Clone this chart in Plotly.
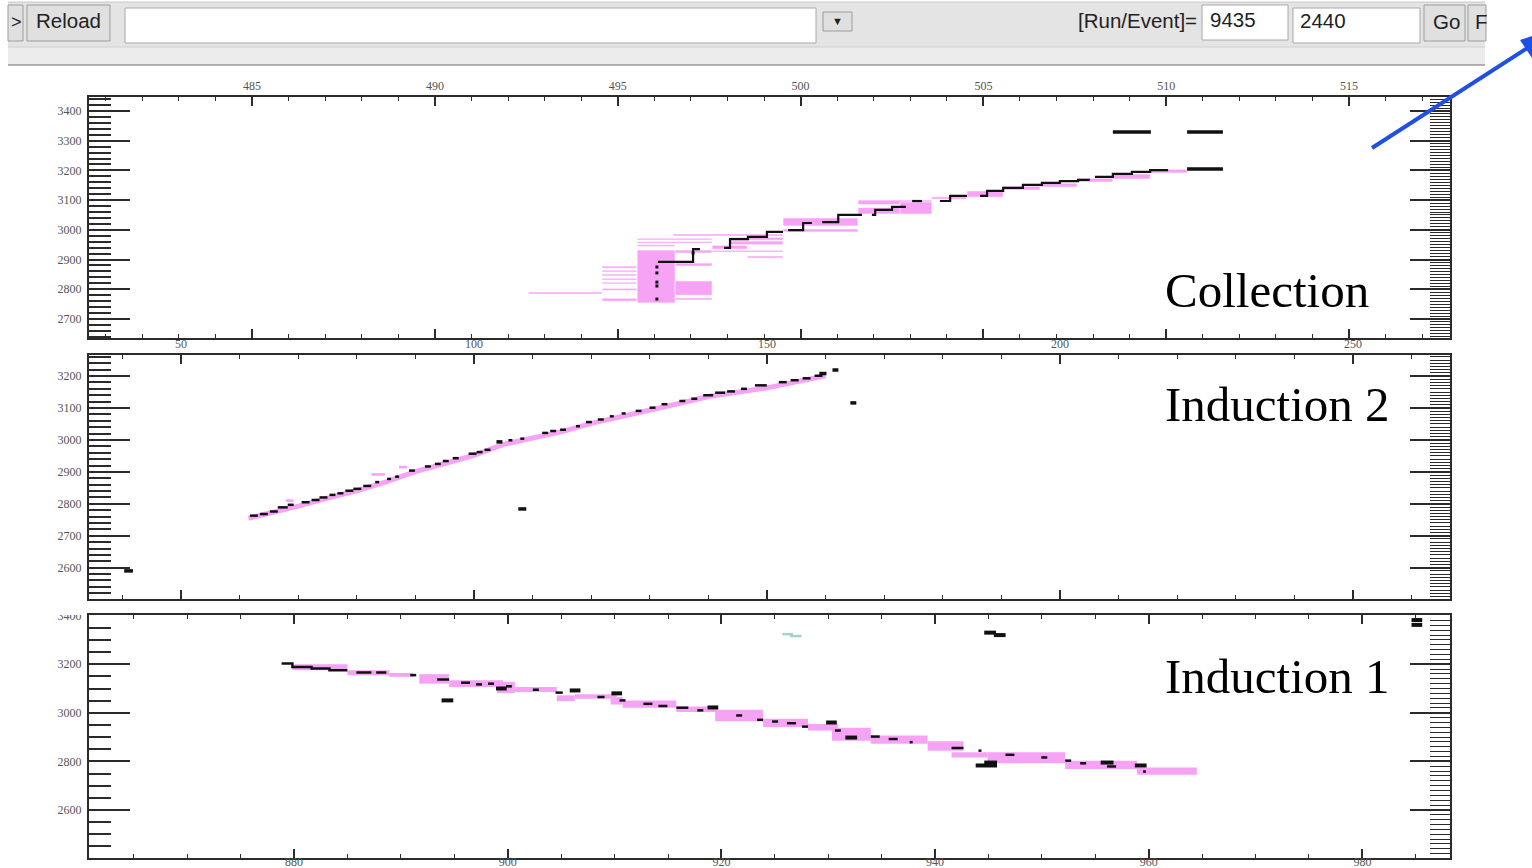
import plotly.graph_objects as go

W, H = 1532, 868

# ======================= DATA =======================
# --- Collection plane ---
col_trk_x0 = [496.10, 497.06, 497.91, 498.07, 498.56, 499.08, 499.66, 500.07, 500.59, 501.03, 501.95, 502.04, 502.50, 503.05,
              503.81, 504.09, 504.91, 505.10, 505.54, 506.08, 506.60, 507.09, 507.59, 508.05, 508.54, 509.06, 509.56]
col_trk_x1 = [497.06, 497.25, 498.07, 498.56, 499.08, 499.52, 500.07, 500.31, 501.03, 501.68, 502.04, 502.50, 502.88, 503.32,
              504.09, 504.55, 505.10, 505.54, 506.08, 506.60, 507.09, 507.59, 507.91, 508.54, 509.06, 509.56, 510.05]
col_trk_y = [2892, 2935, 2939, 2969, 2976, 2993, 2999, 3023, 3026, 3050, 3050, 3067, 3077, 3097,
             3097, 3114, 3114, 3131, 3141, 3151, 3158, 3164, 3168, 3178, 3188, 3195, 3201]
col_dot_x = [496.07, 496.07, 496.07, 496.07, 496.07, 497.06]
col_dot_y = [2875, 2855, 2824, 2811, 2767, 2922]
col_iso_x0 = [510.57, 508.54, 510.57]
col_iso_x1 = [511.55, 509.58, 511.55]
col_iso_y = [3205, 3329, 3329]
col_pink_x0 = [492.55, 494.57, 494.57, 494.57, 494.57, 494.57, 494.57, 494.57, 495.53, 496.57, 496.57, 496.57, 496.57,
               495.53, 495.53, 495.53, 496.51, 497.58, 498.54, 498.07, 498.07, 499.52, 499.52, 501.57, 501.57, 502.72,
               503.59, 504.55, 505.54, 506.55, 507.56, 508.54, 509.56, 497.58]
col_pink_x1 = [494.57, 495.53, 495.53, 495.53, 495.53, 495.53, 495.53, 495.53, 496.57, 497.58, 497.58, 497.58, 497.58,
               497.58, 497.58, 496.57, 499.52, 498.54, 499.52, 499.52, 499.52, 501.57, 501.57, 503.59, 503.59, 503.59,
               504.55, 505.54, 506.55, 507.56, 508.54, 509.56, 510.57, 499.52]
col_pink_y0 = [2784, 2871, 2858, 2845, 2831, 2818, 2796, 2760, 2754, 2922, 2878, 2780, 2764,
               2966, 2955, 2944, 2979, 2935, 2905, 2950, 2965, 3013, 2993, 3053, 3085, 3053,
               3103, 3110, 3134, 3144, 3161, 3171, 3191, 2925]
col_pink_y1 = [2791, 2878, 2864, 2851, 2837, 2824, 2803, 2770, 2932, 2932, 2888, 2828, 2771,
               2972, 2961, 2950, 2986, 2948, 2912, 2962, 2975, 3040, 3003, 3075, 3100, 3094,
               3111, 3131, 3147, 3157, 3174, 3188, 3204, 2931]

# --- Induction 2 plane ---
ind2_trk_x0 = [61.77, 63.46, 65.16, 66.52, 68.21, 70.59, 72.28, 73.64, 75.34, 76.69, 78.05, 79.41, 81.10, 83.14, 85.17, 86.53,
               88.91, 91.62, 93.32, 94.67, 96.37, 99.08, 100.44, 101.80, 105.87, 107.90, 111.63, 112.99, 114.69, 117.40,
               119.10, 121.13, 123.17, 125.20, 127.58, 129.95, 132.00, 135.04, 137.08, 139.11, 141.15, 143.19, 145.56,
               147.94, 152.00, 154.04, 156.08, 158.11]
ind2_trk_x1 = [63.12, 64.82, 66.52, 68.21, 69.23, 71.94, 73.64, 74.99, 76.35, 77.71, 79.41, 80.76, 82.46, 83.82, 85.85, 87.21,
               89.92, 92.64, 94.33, 95.69, 97.39, 100.44, 101.46, 102.81, 106.55, 108.58, 112.65, 114.01, 115.70, 118.08,
               120.12, 122.15, 123.85, 125.88, 128.59, 130.97, 133.00, 136.06, 138.10, 140.81, 142.85, 144.54, 146.58,
               149.97, 153.36, 155.40, 157.43, 159.47]
ind2_trk_y = [2763, 2768, 2776, 2789, 2797, 2805, 2812, 2820, 2828, 2833, 2841, 2847, 2856, 2868, 2878, 2885,
              2904, 2917, 2925, 2934, 2943, 2957, 2962, 2969, 2999, 3004, 3022, 3028, 3032, 3043,
              3056, 3064, 3074, 3083, 3091, 3101, 3112, 3122, 3129, 3140, 3148, 3152, 3160,
              3171, 3181, 3187, 3193, 3201]
ind2_iso_x0 = [103.83, 107.56, 164.22, 161.17, 158.93, 40.3]
ind2_iso_x1 = [104.85, 108.92, 165.24, 162.18, 160.15, 41.8]
ind2_iso_y = [2994, 2784, 3116, 3219, 3208, 2590]
ind2_pink_x = [61.5, 66, 70, 75, 80, 85, 90, 95, 100, 105, 110, 115, 120, 125, 130, 135, 140, 145, 150, 155, 160]
ind2_pink_y = [2755, 2774, 2793, 2818, 2841, 2869, 2901, 2926, 2952, 2986, 3005, 3026, 3052, 3074, 3093, 3114,
               3136, 3150, 3163, 3182, 3201]
ind2_bump_x0 = [67.9, 82.5, 87.2]
ind2_bump_x1 = [69.2, 84.8, 88.6]
ind2_bump_y0 = [2806, 2888, 2911]
ind2_bump_y1 = [2814, 2896, 2919]

# --- Induction 1 plane ---
ind1_trk_x0 = [878.83, 879.84, 881.63, 883.31, 885.83, 887.68, 890.87, 893.39, 895.63, 897.03, 898.15, 899.83, 902.35,
               904.47, 908.39, 910.46, 912.70, 914.10, 915.78, 917.74, 921.38, 923.34, 924.74, 926.14, 927.54, 930.62,
               933.98, 935.66, 937.62, 941.54, 944.06, 946.58, 949.94, 952.18, 953.58, 956.10, 959.46]
ind1_trk_x1 = [879.84, 881.63, 883.31, 884.99, 887.23, 888.63, 891.43, 894.51, 896.47, 897.59, 898.71, 900.39, 902.91,
               905.15, 909.06, 911.02, 913.54, 914.94, 916.90, 918.30, 921.94, 923.90, 925.30, 926.98, 928.10, 931.18,
               934.82, 936.50, 937.90, 942.66, 944.34, 947.42, 950.50, 952.74, 954.14, 956.94, 959.74]
ind1_trk_y = [3203, 3189, 3182, 3175, 3166, 3166, 3155, 3137, 3124, 3117, 3120, 3109, 3095,
              3083, 3065, 3051, 3037, 3028, 3021, 3010, 2989, 2971, 2964, 2957, 2943, 2927,
              2902, 2892, 2879, 2855, 2844, 2827, 2816, 2803, 2792, 2779, 2758]
ind1_iso_x0 = [893.8, 898.9, 905.8, 909.7, 918.7, 929.8, 931.6, 943.8, 944.6, 955.5, 958.7, 944.6, 945.5, 984.6, 984.6]
ind1_iso_x1 = [894.9, 899.9, 906.8, 910.7, 919.7, 930.8, 932.7, 945.8, 945.8, 956.7, 959.8, 945.7, 946.6, 985.6, 985.6]
ind1_iso_y = [3051, 3100, 3092, 3080, 3022, 2960, 2898, 2783, 2795, 2795, 2783, 3330, 3320, 3382, 3362]
ind1_teal_x0 = [925.7, 926.4]
ind1_teal_x1 = [926.7, 927.5]
ind1_teal_y = [3324, 3316]
ind1_pink_x0 = [879.84, 884.99, 888.91, 891.71, 894.51, 898.99, 900.67, 904.59, 906.27, 909.63, 910.75, 915.78, 919.42,
                923.90, 928.10, 930.34, 933.98, 939.30, 941.54, 944.90, 952.18, 958.90]
ind1_pink_x1 = [884.99, 888.91, 891.15, 894.51, 899.55, 900.67, 904.59, 906.27, 910.19, 910.75, 915.78, 919.70, 923.90,
                928.10, 930.90, 933.98, 939.30, 942.66, 944.90, 952.18, 958.90, 964.50]
ind1_pink_y0 = [3175, 3155, 3148, 3120, 3106, 3081, 3086, 3048, 3058, 3034, 3021, 3003, 2965,
                2941, 2927, 2885, 2872, 2844, 2816, 2792, 2768, 2745]
ind1_pink_y1 = [3200, 3175, 3164, 3159, 3134, 3127, 3106, 3072, 3076, 3065, 3051, 3026, 3012,
                2975, 2954, 2938, 2906, 2883, 2837, 2837, 2803, 2775]

# ======================= STYLE =======================
PINK = '#f6a3f6'
BLACK = '#111111'
AXC = '#2b2b2b'
XDOM = [89 / W, 1450 / W]


def PX(px):
    return px / W


def PY(py):
    return 1 - py / H


def seg_xy(x0s, x1s, ys, link=False):
    xs, yv = [], []
    for i in range(len(x0s)):
        if not (link and i > 0 and abs(x0s[i] - x1s[i - 1]) < 0.02):
            if xs:
                xs.append(None)
                yv.append(None)
        xs += [x0s[i], x1s[i]]
        yv += [ys[i], ys[i]]
    return xs, yv


def pink_bars(x0, x1, y0, y1, xa, ya, color=PINK, edge=0):
    return go.Bar(orientation='h', base=x0, x=[b - a for a, b in zip(x0, x1)],
                  y=[(a + b) / 2 for a, b in zip(y0, y1)], width=[b - a for a, b in zip(y0, y1)],
                  marker=dict(color=color, line=dict(width=edge, color='rgba(255,255,255,0.85)')),
                  xaxis=xa, yaxis=ya, hoverinfo='skip', showlegend=False)


def hit_lines(x0, x1, y, xa, ya, width, color=BLACK, link=False):
    xs, ys = seg_xy(x0, x1, y, link)
    return go.Scatter(x=xs, y=ys, mode='lines', line=dict(color=color, width=width),
                      xaxis=xa, yaxis=ya, hoverinfo='skip', showlegend=False)


fig = go.Figure()

# Collection
fig.add_trace(pink_bars(col_pink_x0, col_pink_x1, col_pink_y0, col_pink_y1, 'x', 'y', edge=0.7))
fig.add_trace(hit_lines(col_trk_x0, col_trk_x1, col_trk_y, 'x', 'y', 2.2, link=True))
fig.add_trace(hit_lines(col_iso_x0, col_iso_x1, col_iso_y, 'x', 'y', 3.5))
fig.add_trace(go.Scatter(x=col_dot_x, y=col_dot_y, mode='markers', marker=dict(symbol='square', size=3, color=BLACK),
                         xaxis='x', yaxis='y', hoverinfo='skip', showlegend=False))

# Induction 2
fig.add_trace(go.Scatter(x=ind2_pink_x, y=ind2_pink_y, mode='lines', line=dict(color=PINK, width=5),
                         xaxis='x2', yaxis='y2', hoverinfo='skip', showlegend=False))
fig.add_trace(pink_bars(ind2_bump_x0, ind2_bump_x1, ind2_bump_y0, ind2_bump_y1, 'x2', 'y2'))
fig.add_trace(hit_lines(ind2_trk_x0, ind2_trk_x1, ind2_trk_y, 'x2', 'y2', 2.5))
fig.add_trace(hit_lines(ind2_iso_x0, ind2_iso_x1, ind2_iso_y, 'x2', 'y2', 3.5))

# Induction 1
fig.add_trace(pink_bars(ind1_pink_x0, ind1_pink_x1, ind1_pink_y0, ind1_pink_y1, 'x3', 'y3'))
fig.add_trace(hit_lines(ind1_trk_x0, ind1_trk_x1, ind1_trk_y, 'x3', 'y3', 2.5, link=True))
fig.add_trace(hit_lines(ind1_iso_x0, ind1_iso_x1, ind1_iso_y, 'x3', 'y3', 4))
fig.add_trace(hit_lines(ind1_teal_x0, ind1_teal_x1, ind1_teal_y, 'x3', 'y3', 2.5, color='#a6d3c3'))

# dummy traces for the right-hand tick axes and the bottom label axis
for xa, ya in [('x', 'y4'), ('x2', 'y5'), ('x3', 'y6'), ('x4', 'y3')]:
    fig.add_trace(go.Scatter(x=[None], y=[None], xaxis=xa, yaxis=ya, showlegend=False, hoverinfo='skip'))

TF = dict(family='Liberation Serif', size=12, color='#555555')


def xax(rng, dtick, mdtick, side, labels, anchor):
    return dict(domain=XDOM, range=rng, anchor=anchor, side=side, showline=True, linecolor=AXC, linewidth=2,
                mirror='ticks', ticks='inside', ticklen=9, tickwidth=1.5, tickcolor=AXC, dtick=dtick, tick0=0,
                minor=dict(dtick=mdtick, tick0=0, ticks='inside', ticklen=4, tickwidth=1.2, tickcolor=AXC),
                showgrid=False, zeroline=False, showticklabels=labels, tickfont=TF, fixedrange=True,
                automargin=False)


def yax(rng, dom, dtick, mdtick, anchor):
    return dict(domain=dom, range=rng, anchor=anchor, side='left', showline=True, linecolor=AXC, linewidth=2,
                mirror=True, ticks='inside', ticklen=41, tickwidth=1.5, tickcolor=AXC, dtick=dtick, tick0=0,
                minor=dict(dtick=mdtick, tick0=0, ticks='inside', ticklen=22, tickwidth=1.5, tickcolor=AXC),
                showgrid=False, zeroline=False, tickfont=TF, fixedrange=True, automargin=False,
                ticklabelstandoff=3)


def yright(rng, over, dtick, mdtick, anchor):
    return dict(range=rng, overlaying=over, anchor=anchor, side='right', showline=False, ticks='inside',
                ticklen=40, tickwidth=1.5, tickcolor=AXC, dtick=dtick, tick0=0,
                minor=dict(dtick=mdtick, tick0=0, ticks='inside', ticklen=20, tickwidth=1.2, tickcolor=AXC),
                showgrid=False, zeroline=False, showticklabels=False, fixedrange=True, automargin=False)


D1 = [PY(338), PY(97)]
D2 = [PY(599), PY(355)]
D3 = [PY(858), PY(615)]
R1x, R1y = [480.54, 517.76], [2636, 3447]
R2x, R2y = [34.3, 266.55], [2502, 3266]
R3x, R3y = [860.8, 988.2], [2402, 3402.7]

shapes = []
annotations = []


def rect(x0, y0, x1, y1, fill, line='rgba(0,0,0,0)', lw=0, layer='above'):
    shapes.append(dict(type='rect', xref='paper', yref='paper', x0=PX(x0), x1=PX(x1), y0=PY(y1), y1=PY(y0),
                       fillcolor=fill, line=dict(color=line, width=lw), layer=layer))


def hline(x0, x1, y, color, w=1):
    shapes.append(dict(type='line', xref='paper', yref='paper', x0=PX(x0), x1=PX(x1), y0=PY(y), y1=PY(y),
                       line=dict(color=color, width=w), layer='above'))


def txt(x, y, s, size, family='Liberation Sans', color='#222222', anchor='left'):
    annotations.append(dict(x=PX(x), y=PY(y), xref='paper', yref='paper', text=s, showarrow=False,
                            xanchor=anchor, yanchor='middle', font=dict(family=family, size=size, color=color)))


# toolbar
rect(8, 2, 1485, 47, '#e4e4e4')
rect(8, 47, 1485, 65, '#ececec')
hline(8, 1485, 2, '#c8c8c8', 1)
hline(8, 1485, 47, '#d0d0d0', 1)
hline(8, 1485, 65, '#9a9a9a', 1.5)
for bx0, bx1, by0, by1 in [(8, 23, 5, 41), (27, 110, 5, 41), (823, 852, 12, 31), (1424, 1465, 5, 41), (1468, 1486, 5, 41)]:
    rect(bx0, by0, bx1, by1, '#e0e0e0', '#9c9c9c', 1)
for ex0, ex1, ey0, ey1 in [(125, 816, 8, 43), (1202, 1288, 5, 40), (1293, 1420, 8, 43)]:
    rect(ex0, ey0, ex1, ey1, '#ffffff', '#a8a8a8', 1)
txt(9, 22, '&gt;', 18)
txt(34, 21, 'Reload', 20.5)
txt(837, 21, '▼', 11, anchor='center')
txt(1076, 20, '[Run/Event]=', 20.5)
txt(1208, 19, '9435', 20.5)
txt(1298, 21, '2440', 20.5)
txt(1431, 22, 'Go', 20.5)
txt(1473, 22, 'F', 20.5)

# mask top half of the clipped 3400 label of the bottom panel
rect(40, 602, 87, 615, '#ffffff')

# blue arrow
shapes.append(dict(type='line', xref='paper', yref='paper', x0=PX(1372), y0=PY(148), x1=PX(1529), y1=PY(47),
                   line=dict(color='#1f4fe3', width=4), layer='above'))
shapes.append(dict(type='path', xref='paper', yref='paper',
                   path=f'M {PX(1520)} {PY(40)} L {PX(1532)} {PY(36)} L {PX(1532)} {PY(58)} Z',
                   fillcolor='#1f4fe3', line=dict(width=0), layer='above'))

# plane labels
txt(1163, 290, 'Collection', 49, family='Liberation Serif', color='#000000')
txt(1163, 404, 'Induction 2', 49, family='Liberation Serif', color='#000000')
txt(1163, 676, 'Induction 1', 49, family='Liberation Serif', color='#000000')

fig.update_layout(
    width=W, height=H, margin=dict(l=0, r=0, t=0, b=0, pad=0, autoexpand=False),
    paper_bgcolor='white', plot_bgcolor='white', showlegend=False, barmode='overlay',
    xaxis=xax(R1x, 5, 1, 'top', True, 'y'),
    yaxis=yax(R1y, D1, 100, 20, 'x'),
    xaxis2=xax(R2x, 50, 10, 'top', True, 'y2'),
    yaxis2=yax(R2y, D2, 100, 20, 'x2'),
    xaxis3=xax(R3x, 20, 5, 'bottom', False, 'y3'),
    yaxis3=yax(R3y, D3, 200, 50, 'x3'),
    xaxis4=dict(range=R3x, overlaying='x3', anchor='free', position=PY(853), side='bottom', showline=False,
                ticks='', dtick=20, tick0=0, showgrid=False, zeroline=False, showticklabels=True, tickfont=TF,
                fixedrange=True, automargin=False),
    yaxis4=yright(R1y, 'y', 100, 10, 'x'),
    yaxis5=yright(R2y, 'y2', 100, 10, 'x2'),
    yaxis6=yright(R3y, 'y3', 200, 20, 'x3'),
    shapes=shapes, annotations=annotations,
)

fig.write_html('out.html')
